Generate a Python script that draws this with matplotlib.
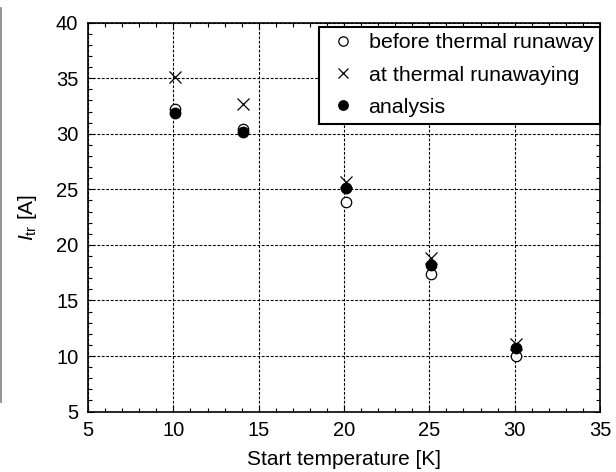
import matplotlib.pyplot as plt
from matplotlib.lines import Line2D
from matplotlib.ticker import MultipleLocator

plt.rcParams['font.family'] = ['Liberation Sans', 'DejaVu Sans']
plt.rcParams['mathtext.fontset'] = 'custom'
plt.rcParams['mathtext.it'] = 'Liberation Sans:italic'
plt.rcParams['mathtext.rm'] = 'Liberation Sans'

# Start temperature [K] and transport current [A]
temp = [10.1, 14.1, 20.1, 25.1, 30.1]
before_runaway = [32.2, 30.4, 23.9, 17.4, 10.0]
at_runaway = [35.1, 32.7, 25.7, 18.8, 11.1]
analysis = [31.9, 30.2, 25.1, 18.2, 10.7]

fig = plt.figure(figsize=(6.16, 4.72), dpi=100)
ax = fig.add_axes([0.143, 0.128, 0.831, 0.824])

ax.plot(temp, before_runaway, 'o', mfc='white', mec='black', mew=0.9, ms=7.5,
        ls='none', label='before thermal runaway')
ax.plot(temp, at_runaway, 'x', color='black', mew=0.9, ms=8.5,
        ls='none', label='at thermal runawaying')
ax.plot(temp, analysis, 'o', color='black', ms=7.5,
        ls='none', label='analysis')

ax.set_xlim(5, 35)
ax.set_ylim(5, 40)
ax.xaxis.set_major_locator(MultipleLocator(5))
ax.xaxis.set_minor_locator(MultipleLocator(1))
ax.yaxis.set_major_locator(MultipleLocator(5))
ax.yaxis.set_minor_locator(MultipleLocator(1))
ax.tick_params(which='both', direction='in', top=True, right=True,
               labelsize=14.5, colors='black')
ax.tick_params(which='major', length=4, width=0.8, pad=7)
ax.tick_params(which='minor', length=3, width=0.8)
ax.grid(True, which='major', ls=(0, (2.5, 1.5)), color='black', lw=0.8)
for s in ax.spines.values():
    s.set_linewidth(1.2)

ax.set_xlabel('Start temperature [K]', fontsize=15, labelpad=7)
ax.set_ylabel(r'$I_{\mathrm{tr}}$ [A]', fontsize=15, labelpad=12)

leg = ax.legend(loc='upper right', bbox_to_anchor=(1.0, 0.99), fontsize=15.4,
                frameon=True, fancybox=False, borderaxespad=0.0,
                handletextpad=0.4, labelspacing=0.62, handlelength=1.6,
                borderpad=0.32, framealpha=1, markerscale=0.9)
leg.get_frame().set_edgecolor('black')
leg.get_frame().set_linewidth(1.5)

# thin gray rule along the left border
fig.add_artist(Line2D([0.002, 0.002], [0.148, 0.983], color='0.5', lw=1.2,
                      transform=fig.transFigure))

fig.savefig('out.png', dpi=100)
